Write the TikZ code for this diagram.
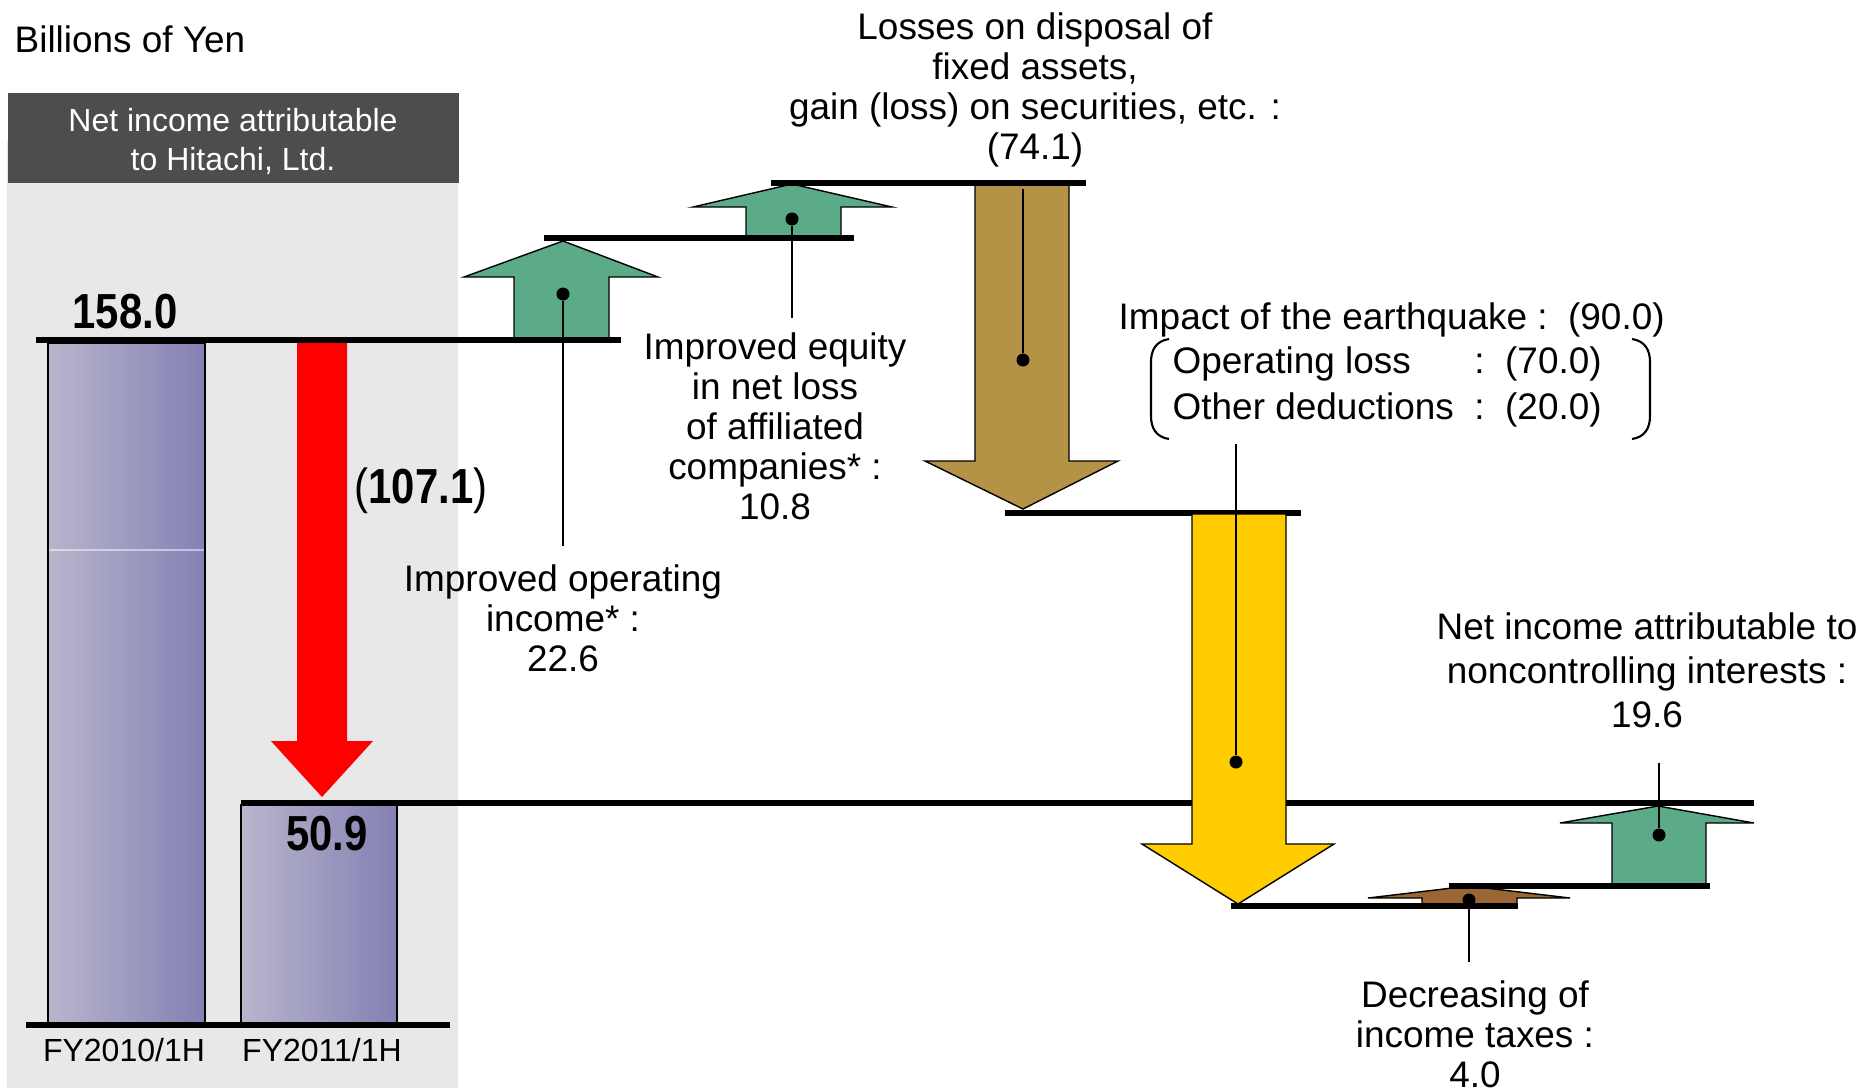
\documentclass[tikz,border=0pt]{standalone}
\usepackage{fontspec}
\setmainfont{Liberation Sans}
\newfontfamily\numfont{Liberation Sans}[FakeStretch=0.85]

\definecolor{panelgray}{RGB}{232,232,232}
\definecolor{headgray}{RGB}{77,77,77}
\definecolor{barleft}{RGB}{184,182,204}
\definecolor{barright}{RGB}{132,128,180}
\definecolor{upgreen}{RGB}{91,170,136}
\definecolor{lossbrown}{RGB}{180,146,70}
\definecolor{quakeyellow}{RGB}{255,204,0}
\definecolor{taxbrown}{RGB}{154,102,51}

\begin{document}
\begin{tikzpicture}[x=0.01cm,y=-0.01cm,
  level/.style={line width=1.8pt},
  lead/.style={line width=0.6pt},
  dot/.style={circle,fill=black,inner sep=0pt,minimum size=0.13cm},
  blockarr/.style={draw=black,line width=0.4pt},
  bar/.style={draw=black,line width=0.8pt,left color=barleft,right color=barright},
  lbl/.style={align=center,inner sep=0pt,font=\fontsize{10.5}{11.4}\selectfont},
  num/.style={inner sep=0pt,font=\numfont\bfseries\fontsize{14}{16}\selectfont},
  fy/.style={inner sep=0pt,font=\fontsize{9.1}{11}\selectfont}]

  \useasboundingbox (0,0) rectangle (1865,1090);

  % left panel
  \fill[panelgray] (7,140) rectangle (458,1088);
  \fill[headgray] (8,93) rectangle (459,183);
  \node[lbl,text=white,font=\fontsize{9.1}{11.1}\selectfont] (head) at (233,141) {Net income attributable\\to Hitachi, Ltd.};
  \node[lbl,anchor=west] (unit) at (14,39) {Billions of Yen};

  % bars
  \draw[bar] (48,343) rectangle (205,1025);
  \draw[white,opacity=0.5,line width=0.3pt] (49,550) -- (204,550);
  \draw[bar] (241,805) rectangle (397,1025);
  \draw[level] (26,1025) -- (450,1025); % base
  \node[fy] (fy10) at (124,1050) {FY2010/1H};
  \node[fy] (fy11) at (322,1050) {FY2011/1H};

  %red arrow
  \fill[red] (297,343) -- (347,343) -- (347,741) -- (373,741) -- (322,797) -- (271,741) -- (297,741) -- cycle;

  %block arrows
  \draw[blockarr,fill=upgreen] (514,339) -- (514,277) -- (464,277) -- (563,241) -- (658,277) -- (609,277) -- (609,339) -- cycle;
  \draw[blockarr,fill=upgreen] (746,236) -- (746,207) -- (693,207) -- (792,184) -- (892,207) -- (841,207) -- (841,236) -- cycle;
  \draw[blockarr,fill=lossbrown] (975,184) -- (1069,184) -- (1069,461) -- (1118,461) -- (1023,509) -- (925,461) -- (975,461) -- cycle;
  \draw[blockarr,fill=taxbrown] (1422,906) -- (1422,898) -- (1368,898) -- (1469,886) -- (1570,898) -- (1517,898) -- (1517,906) -- cycle;
  \draw[blockarr,fill=upgreen] (1612,886) -- (1612,823) -- (1560,823) -- (1658,806) -- (1754,823) -- (1706,823) -- (1706,886) -- cycle;

  % levels
  \draw[level] (36,340) -- (621,340);
  \draw[level] (544,238) -- (854,238);
  \draw[level] (771,183) -- (1086,183);
  \draw[level] (1005,513) -- (1301,513);
  \draw[level] (1231,906) -- (1518,906);
  \draw[level] (1449,886) -- (1710,886);
  \draw[level] (241,803) -- (1754,803);

  \draw[blockarr,fill=quakeyellow] (1192,514) -- (1286,514) -- (1286,844) -- (1334,844) -- (1238,904) -- (1142,844) -- (1192,844) -- cycle;

  % values
  \node[num] (v158) at (125,312) {158.0};
  \node[num] (v509) at (327,834) {50.9};
  \node[num] (vdiff) at (421,491) {{\mdseries(}107.1{\mdseries)}};

  % labels
  \node[lbl] (lloss) at (1035,90) {Losses on disposal of\\fixed assets,\\gain (loss) on securities, etc. :\\(74.1)};
  \node[lbl] (lequity) at (775,426) {Improved equity\\in net loss\\of affiliated\\companies* :\\10.8};
  \node[lbl] (lopr) at (563,618) {Improved operating\\income* :\\22.6};
  \node[lbl,anchor=west] (lquake) at (1118,320) {Impact of the earthquake :\ \ (90.0)};
  \node[lbl,anchor=west,font=\fontsize{10.5}{13}\selectfont] (litems) at (1172,387) {\begin{tabular}{@{}l@{\ \ :\ \ }l@{}}Operating loss & (70.0)\\Other deductions & (20.0)\end{tabular}};
  \node[lbl,font=\fontsize{10.5}{12.5}\selectfont] (lminor) at (1647,670) {Net income attributable to\\noncontrolling interests :\\19.6};
  \node[lbl] (ltax) at (1475,1034) {Decreasing of\\income taxes :\\4.0};

  %brackets
  \draw[lead] (1169,339) .. controls (1156,341) and (1151,350) .. (1151,362) -- (1151,416) .. controls (1151,428) and (1156,437) .. (1169,439);
  \draw[lead] (1632,339) .. controls (1645,341) and (1650,350) .. (1650,362) -- (1650,416) .. controls (1650,428) and (1645,437) .. (1632,439);

  % dots and leaders
  \node[dot] (dopr) at (563,294) {};
  \node[dot] (dequity) at (792,219) {};
  \node[dot] (dloss) at (1023,360) {};
  \node[dot] (dquake) at (1236,762) {};
  \node[dot] (dtax) at (1469,900) {};
  \node[dot] (dminor) at (1659,835) {};
  \draw[lead,shorten >=5pt] (dopr) -- (dopr |- lopr.north);
  \draw[lead,shorten >=4pt] (dequity) -- (dequity |- lequity.north);
  \draw[lead,shorten >=6pt] (dloss) -- (dloss |- lloss.south);
  \draw[lead,shorten >=3pt] (dquake) -- (dquake |- litems.south);
  \draw[lead,shorten >=5pt] (dtax) -- (dtax |- ltax.north);
  \draw[lead,shorten >=10pt] (dminor) -- (dminor |- lminor.south);

\end{tikzpicture}
\end{document}
